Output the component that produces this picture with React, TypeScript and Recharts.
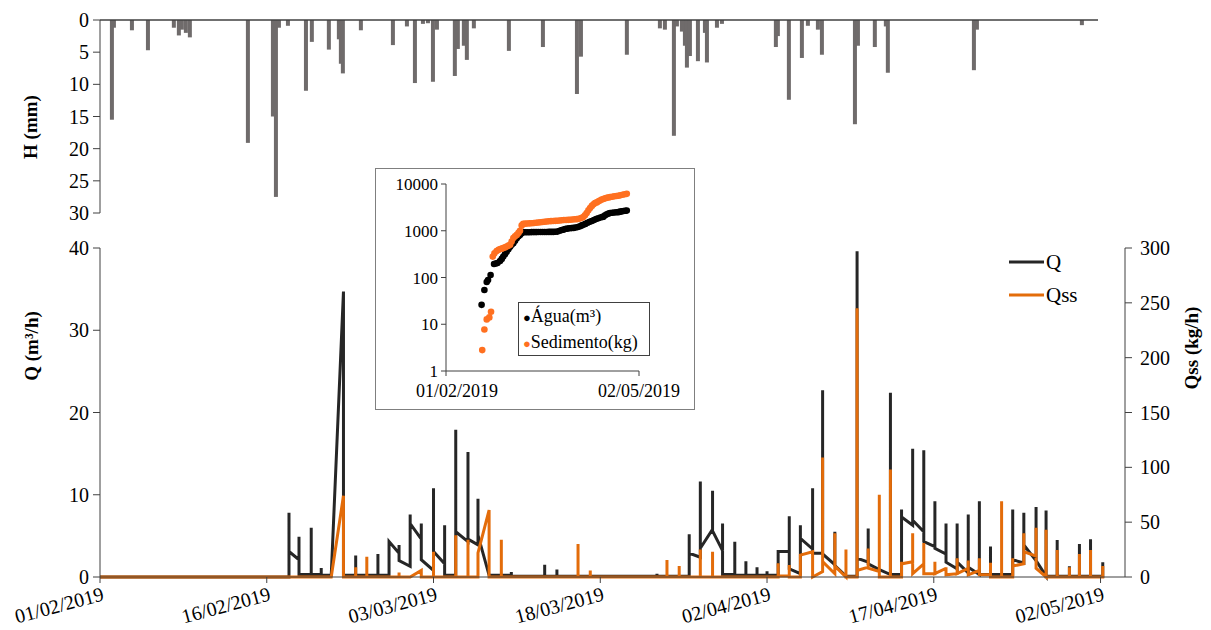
import React from "react";
import {
  Bar,
  BarChart,
  Line,
  LineChart,
  ReferenceLine,
  Scatter,
  ScatterChart,
  XAxis,
  YAxis,
} from "recharts";

const FONT = "'Liberation Serif', 'Times New Roman', serif";
const AXIS = "#404040";
const BLACK = "#262626";
const ORANGE = "#e36c0a";
const RAIN = "#6f6b6b";

// x values are days counted from 01/02/2019
const dateTicks = [0, 15, 30, 45, 60, 75, 90];
const dateLabels = [
  "01/02/2019",
  "16/02/2019",
  "03/03/2019",
  "18/03/2019",
  "02/04/2019",
  "17/04/2019",
  "02/05/2019",
];
const rainTicks = [0, 5, 10, 15, 20, 25, 30];
const qTicks = [0, 10, 20, 30, 40];
const qssTicks = [0, 50, 100, 150, 200, 250, 300];
const logTicks = [1, 10, 100, 1000, 10000];
const insetTicks = [0, 90];
const insetLabels = ["01/02/2019", "02/05/2019"];

// rainfall H (mm): [day, mm]
const rainfall: [number, number][] = [
  [1.08, 15.5], [1.26, 1.2], [2.88, 1.6], [4.32, 4.7], [6.65, 1.2], [7.1, 2.4],
  [7.37, 1.5], [7.73, 2.0], [8.09, 2.7], [13.31, 19.1], [15.56, 15.0], [15.83, 27.5],
  [16.1, 1.2], [16.91, 0.9], [18.53, 11.0], [19.06, 3.4], [20.59, 4.6], [21.49, 3.0],
  [21.67, 6.8], [21.85, 8.3], [23.47, 1.6], [26.35, 3.9], [27.61, 1.0], [28.33, 9.8],
  [29.05, 0.6], [29.5, 0.5], [29.95, 9.6], [30.31, 1.5], [31.92, 8.7], [32.19, 4.5],
  [32.73, 4.0], [33.0, 6.2], [33.63, 1.3], [36.78, 4.8], [39.84, 4.2], [42.9, 11.5],
  [43.26, 5.7], [47.39, 5.4], [50.36, 1.3], [50.81, 1.5], [51.62, 18.0], [51.89, 1.0],
  [52.34, 1.8], [52.61, 4.0], [52.79, 7.4], [53.06, 5.6], [53.78, 6.4], [54.41, 2.0],
  [54.59, 6.6], [55.49, 1.2], [55.94, 0.6], [60.79, 4.2], [60.97, 2.5], [61.96, 12.4],
  [63.13, 5.9], [63.67, 0.9], [64.57, 1.5], [64.93, 5.4], [67.9, 16.2], [68.17, 4.0],
  [69.69, 4.2], [70.68, 1.0], [70.86, 8.2], [78.6, 7.8], [78.87, 1.5], [88.31, 0.8],
];

// flow Q (m3/h): [day, Q]
const qSeries: [number, number][] = [
  [0, 0], [17.0, 0], [17.0, 7.8], [17.0, 3.1], [17.9, 2.1], [17.9, 4.9], [17.9, 0.3],
  [19.0, 0.3], [19.0, 6.0], [19.0, 0.3], [19.9, 0.3], [19.9, 1.1], [19.9, 0.2], [20.8, 0.2],
  [21.9, 34.7], [21.9, 0.2], [23.0, 0.2], [23.0, 2.6], [23.0, 0.2], [25.0, 0.2], [25.0, 2.8],
  [25.0, 0.2], [26.0, 0.2], [26.0, 4.3], [26.9, 2.9], [26.9, 3.9], [26.9, 2.0], [27.9, 1.3],
  [27.9, 7.6], [27.9, 6.5], [28.9, 4.6], [28.9, 6.5], [28.9, 2.1], [30.0, 0.8], [30.0, 10.8],
  [30.0, 3.1], [31.0, 1.6], [31.0, 6.3], [31.0, 0.2], [32.0, 0.2], [32.0, 17.9], [32.0, 5.5],
  [33.1, 4.3], [33.1, 15.2], [33.1, 4.6], [34.0, 3.9], [34.0, 9.5], [34.0, 5.1], [35.0, 0.2],
  [37.0, 0.2], [37.0, 0.6], [37.0, 0.1], [40.0, 0.1], [40.0, 1.5], [40.0, 0.1], [41.1, 0.1],
  [41.1, 0.9], [41.1, 0.1], [50.1, 0.1], [50.1, 0.4], [50.1, 0.1], [53.0, 0.1], [53.0, 5.2],
  [53.0, 2.9], [54.0, 2.4], [54.0, 11.6], [54.0, 3.5], [55.1, 5.8], [55.1, 10.5], [55.1, 5.6],
  [56.0, 3.2], [56.0, 6.5], [56.0, 0.3], [57.1, 0.3], [57.1, 4.3], [57.1, 0.2], [58.1, 0.2],
  [58.1, 1.9], [58.1, 0.2], [59.1, 0.2], [59.1, 1.2], [59.1, 0.2], [60.0, 0.2], [60.0, 0.7],
  [60.0, 0.2], [61.0, 0.2], [61.0, 3.1], [62.0, 3.1], [62.0, 7.4], [62.0, 1.0], [63.0, 0.4],
  [63.0, 6.3], [63.0, 4.7], [64.1, 3.4], [64.1, 10.8], [64.1, 2.9], [65.0, 2.9], [65.0, 22.7],
  [65.0, 2.8], [66.1, 1.5], [66.1, 5.5], [66.1, 1.4], [67.1, 0.1], [68.1, 0.1], [68.1, 39.6],
  [68.1, 2.3], [69.1, 1.8], [69.1, 5.9], [69.1, 1.6], [70.1, 0.9], [71.1, 0.3], [71.1, 22.4],
  [71.1, 0.3], [72.1, 0.3], [72.1, 8.2], [72.1, 7.3], [73.1, 6.3], [73.1, 15.6], [73.1, 6.9],
  [74.1, 5.5], [74.1, 15.4], [74.1, 4.3], [75.1, 3.7], [75.1, 9.2], [75.1, 3.5], [76.1, 2.8],
  [76.1, 6.5], [76.1, 1.8], [77.1, 1.0], [77.1, 6.5], [77.1, 1.8], [78.1, 0.5], [78.1, 7.6],
  [78.1, 1.2], [79.1, 0.3], [79.1, 9.2], [79.1, 0.3], [80.1, 0.3], [80.1, 3.7], [80.1, 0.3],
  [82.1, 0.3], [82.1, 8.2], [82.1, 2.1], [83.1, 1.7], [83.1, 7.8], [83.1, 3.9], [84.2, 2.0],
  [84.2, 8.5], [84.2, 2.0], [85.1, 0.1], [85.1, 8.1], [85.1, 0.1], [86.1, 0.1], [86.1, 4.5],
  [86.1, 0.1], [87.2, 0.1], [87.2, 1.3], [87.2, 0.1], [88.1, 0.1], [88.1, 4.0], [88.1, 0.1],
  [89.1, 0.1], [89.1, 4.6], [89.1, 0.1], [90.2, 0.1], [90.2, 1.8], [90.2, 0],
];

// suspended sediment Qss (kg/h): [day, Qss]
const qssSeries: [number, number][] = [
  [0, 0], [20.8, 0], [21.9, 74], [21.9, 0], [23.0, 0], [23.0, 9], [23.0, 0], [24.0, 0],
  [24.0, 18.5], [24.0, 0], [26.9, 0], [26.9, 4], [26.9, 0], [27.9, 0], [28.9, 6], [28.9, 0],
  [30.0, 0], [30.0, 23], [30.0, 0], [32.0, 0], [32.0, 38], [32.0, 0], [33.1, 0], [33.1, 34],
  [33.1, 0], [34.0, 0], [34.0, 22], [35.0, 61], [35.0, 0], [36.1, 0], [36.1, 34], [36.1, 0],
  [43.0, 0], [43.0, 30], [43.0, 0], [44.1, 0], [44.1, 6], [44.1, 0], [51.0, 0], [51.0, 15.5],
  [51.0, 0], [52.1, 0], [52.1, 10], [52.1, 0], [54.0, 0], [54.0, 25], [54.0, 0], [55.1, 0],
  [55.1, 23], [55.1, 0], [61.0, 0], [61.0, 12.5], [61.0, 1], [62.0, 1], [62.0, 11], [62.0, 0],
  [63.0, 0], [63.0, 20], [64.1, 23], [64.1, 0], [65.0, 5], [65.0, 109], [65.0, 14], [66.1, 3],
  [66.1, 40], [66.1, 10], [67.1, 0], [67.1, 25], [67.1, 0], [68.1, 0], [68.1, 245], [68.1, 6],
  [69.1, 9], [69.1, 26], [69.1, 8], [70.1, 5], [70.1, 75], [70.1, 0], [71.1, 0], [71.1, 98],
  [71.1, 0], [72.1, 0], [72.1, 14], [72.1, 12], [73.1, 14], [73.1, 40], [73.1, 3], [74.1, 12],
  [74.1, 31], [74.1, 3], [75.1, 3], [75.1, 14], [75.1, 3], [76.1, 8], [76.1, 9], [76.1, 2],
  [77.1, 3], [77.1, 17], [77.1, 3], [78.1, 8], [78.1, 15], [78.1, 2], [79.1, 6], [79.1, 17],
  [79.1, 2], [80.1, 2], [80.1, 13], [80.1, 0], [81.1, 0], [81.1, 69], [81.1, 0], [82.1, 0],
  [82.1, 17], [82.1, 10], [83.1, 12], [83.1, 40], [83.1, 23], [84.2, 19], [84.2, 45], [84.2, 8],
  [85.1, 0], [85.1, 43], [85.1, 0], [86.1, 0], [86.1, 24.6], [86.1, 0], [87.2, 0], [87.2, 9],
  [87.2, 0], [88.1, 0], [88.1, 21], [88.1, 0], [89.1, 0], [89.1, 24.6], [89.1, 0], [90.2, 0],
  [90.2, 10], [90.2, 0],
];

// cumulative water (m3): [day, volume]
const waterVolume: [number, number][] = [
  [16.6, 26], [17.9, 54], [19.0, 80], [19.6, 88], [20.8, 113], [22.4, 195], [23.2, 200],
  [24.0, 205], [25.2, 226], [26.0, 250], [26.7, 280], [27.5, 315], [28.3, 357], [29.1, 400],
  [29.9, 457], [30.6, 500], [31.4, 540], [32.2, 610], [33.0, 695], [33.8, 760], [34.5, 815],
  [35.3, 880], [36.0, 935], [37, 930], [38, 930], [39, 930], [40, 935], [41, 935], [42, 935],
  [43, 940], [44, 940], [45, 940], [46, 940], [47, 940], [48, 945], [49, 945], [50, 945],
  [51, 950], [52, 960], [53, 1000], [54, 1040], [54.7, 1050], [55.5, 1090], [56.5, 1110],
  [57.5, 1130], [58.5, 1140], [59.5, 1150], [60.5, 1170], [61.5, 1200], [62.5, 1250],
  [63.3, 1300], [64, 1340], [65, 1400], [66, 1480], [67, 1550], [68, 1620], [69, 1700],
  [70, 1780], [71, 1850], [72, 1920], [73, 1980], [73.4, 2000], [74.2, 2150], [75, 2250],
  [75.8, 2330], [76.5, 2400], [77.5, 2430], [78.5, 2460], [79.5, 2490], [80.4, 2500],
  [81.2, 2560], [82, 2600], [82.8, 2640], [83.6, 2680], [84.3, 2700],
];

// cumulative sediment (kg): [day, mass]
const sedimentMass: [number, number][] = [
  [16.9, 2.8], [17.9, 7.7], [19.0, 12.7], [20.2, 14], [21.0, 18.5], [21.8, 280], [22.6, 330],
  [23.6, 370], [24.5, 390], [25.3, 405], [26.1, 415], [26.7, 425], [27.5, 440], [28.3, 460],
  [29.1, 480], [29.9, 500], [30.6, 590], [31.4, 700], [32.2, 760], [33.0, 815], [33.8, 900],
  [34.5, 1000], [35.3, 1300], [36.0, 1410], [37, 1420], [38, 1430], [39, 1440], [40, 1450],
  [41, 1460], [42, 1480], [43, 1500], [44, 1520], [45, 1540], [46, 1560], [47, 1580],
  [48, 1600], [49, 1610], [50, 1620], [51, 1630], [52, 1640], [53, 1660], [54, 1680],
  [55, 1700], [56, 1700], [57, 1710], [58, 1720], [59, 1740], [60, 1760], [61, 1770],
  [62, 1800], [63, 1880], [64, 1960], [64.8, 2150], [65.6, 2400], [66.4, 2750], [67.2, 3070],
  [68, 3400], [68.8, 3700], [69.5, 3900], [70.3, 4040], [71.1, 4250], [71.8, 4450],
  [72.6, 4650], [73.4, 4770], [74.2, 4950], [75, 5050], [75.7, 5150], [76.5, 5250],
  [77.5, 5350], [78.5, 5450], [79.5, 5550], [80.4, 5600], [81.3, 5750], [82.3, 5900],
  [83.3, 6050], [84.3, 6150],
];

const rainRows = rainfall.map(([day, mm]) => ({ day, mm }));
const qRows = qSeries.map(([day, q]) => ({ day, q }));
const qssRows = qssSeries.map(([day, qss]) => ({ day, qss }));
const waterRows = waterVolume.map(([day, v]) => ({ day, v }));
const sedimentRows = sedimentMass.map(([day, v]) => ({ day, v }));

const tickStyle = { fontSize: 20, fill: "#000", style: { fontFamily: FONT } };

function DateTick(props: any) {
  const { x, y, payload } = props;
  const label = dateLabels[dateTicks.indexOf(payload.value)];
  const ax = x + 5;
  const ay = y + 15;
  return (
    <text
      x={ax}
      y={ay}
      textAnchor="end"
      fontSize={20}
      style={{ fontFamily: FONT }}
      fill="#000"
      transform={`rotate(-15, ${ax}, ${ay})`}
    >
      {label}
    </text>
  );
}

function InsetDateTick(props: any) {
  const { x, y, payload } = props;
  const i = insetTicks.indexOf(payload.value);
  return (
    <text
      x={i === 0 ? x + 11 : x}
      y={y + 19}
      textAnchor="middle"
      fontSize={18}
      style={{ fontFamily: FONT }}
      fill="#000"
    >
      {insetLabels[i]}
    </text>
  );
}

const dot = (color: string) => (p: any) =>
  <circle cx={p.cx} cy={p.cy} r={3.3} fill={color} />;

// rain bars are narrow and closely spaced, so keep a fixed 4px width;
// the axis is reversed, so the height may come in negative
const RainBar = (p: any) => {
  const w = Number(p.width) || 0;
  const h = Number(p.height) || 0;
  const cx = Number(p.x) + w / 2;
  return (
    <rect
      x={cx - 2}
      y={Math.min(Number(p.y), Number(p.y) + h)}
      width={4}
      height={Math.abs(h)}
      fill={RAIN}
    />
  );
};

function RainPanel() {
  return (
    <BarChart
      width={1211}
      height={230}
      data={rainRows}
      margin={{ top: 20, right: 113, bottom: 17, left: 40 }}
    >
      <XAxis type="number" dataKey="day" domain={[0, 89.75]} hide />
      <YAxis
        reversed
        domain={[0, 30]}
        ticks={rainTicks}
        width={60}
        tick={tickStyle}
        tickSize={7}
        tickMargin={4}
        stroke={AXIS}
      />
      <Bar dataKey="mm" fill={RAIN} barSize={4} shape={RainBar} isAnimationActive={false} />
      <ReferenceLine y={0} stroke={AXIS} strokeWidth={1.5} />
    </BarChart>
  );
}

function FlowPanel() {
  return (
    <LineChart
      width={1211}
      height={630}
      margin={{ top: 248, right: 26, bottom: 13, left: 40 }}
    >
      <XAxis
        type="number"
        dataKey="day"
        domain={[0, 92.2]}
        ticks={dateTicks}
        allowDataOverflow
        height={40}
        tick={DateTick}
        tickSize={6}
        stroke={AXIS}
      />
      <YAxis
        yAxisId="q"
        domain={[0, 40]}
        ticks={qTicks}
        width={60}
        tick={tickStyle}
        tickSize={7}
        tickMargin={4}
        stroke={AXIS}
      />
      <YAxis
        yAxisId="qss"
        orientation="right"
        domain={[0, 300]}
        ticks={qssTicks}
        width={60}
        tick={{ ...tickStyle, textAnchor: "start" }}
        tickSize={7}
        tickMargin={8}
        stroke={AXIS}
      />
      <Line
        data={qRows}
        yAxisId="q"
        dataKey="q"
        type="linear"
        stroke={BLACK}
        strokeWidth={3}
        dot={false}
        isAnimationActive={false}
      />
      <Line
        data={qssRows}
        yAxisId="qss"
        dataKey="qss"
        type="linear"
        stroke={ORANGE}
        strokeWidth={3}
        dot={false}
        isAnimationActive={false}
      />
    </LineChart>
  );
}

function CumulativeInset() {
  return (
    <div
      style={{
        position: "absolute",
        left: 375,
        top: 168,
        width: 320,
        height: 242,
        boxSizing: "border-box",
        border: "1px solid #7f7f7f",
        background: "#fff",
      }}
    >
      <ScatterChart
        width={318}
        height={240}
        margin={{ top: 15, right: 55, bottom: 8, left: 20 }}
      >
        <XAxis
          type="number"
          dataKey="day"
          domain={[0, 90]}
          ticks={insetTicks}
          height={30}
          tick={InsetDateTick}
          tickSize={5}
          stroke={AXIS}
        />
        <YAxis
          type="number"
          dataKey="v"
          scale="log"
          domain={[1, 10000]}
          ticks={logTicks}
          allowDataOverflow
          width={50}
          tick={{ ...tickStyle, fontSize: 17 }}
          tickSize={5}
          tickMargin={3}
          stroke={AXIS}
        />
        <Scatter
          data={waterRows}
          fill="#000"
          shape={dot("#000")}
          isAnimationActive={false}
        />
        <Scatter
          data={sedimentRows}
          fill="#ff7020"
          shape={dot("#ff7020")}
          isAnimationActive={false}
        />
      </ScatterChart>
      <div
        style={{
          position: "absolute",
          left: 142,
          top: 133,
          width: 132,
          height: 54,
          boxSizing: "border-box",
          border: "1px solid #404040",
          background: "#fff",
          fontSize: 18,
          lineHeight: "25px",
          paddingTop: 1,
          paddingLeft: 4,
          whiteSpace: "nowrap",
        }}
      >
        <div>
          <span style={{ color: "#000", fontSize: 13 }}>●</span>Água(m³)
        </div>
        <div>
          <span style={{ color: "#ff7020", fontSize: 13 }}>●</span>Sedimento(kg)
        </div>
      </div>
    </div>
  );
}

export default function App() {
  return (
    <div
      style={{
        position: "absolute",
        left: 0,
        top: 0,
        width: 1211,
        height: 630,
        background: "#fff",
        fontFamily: FONT,
        overflow: "hidden",
      }}
    >
      <div style={{ position: "absolute", left: 0, top: 0 }}>
        <FlowPanel />
      </div>
      <div style={{ position: "absolute", left: 0, top: 0 }}>
        <RainPanel />
      </div>
      <CumulativeInset />
      <svg
        width={1211}
        height={630}
        style={{ position: "absolute", left: 0, top: 0, pointerEvents: "none", fontFamily: FONT }}
      >
        <text
          transform="translate(37, 127) rotate(-90)"
          textAnchor="middle"
          fontSize={19}
          fontWeight="bold"
        >
          H (mm)
        </text>
        <text
          transform="translate(38, 346) rotate(-90)"
          textAnchor="middle"
          fontSize={19}
          fontWeight="bold"
        >
          Q (m³/h)
        </text>
        <text
          transform="translate(1198, 348) rotate(-90)"
          textAnchor="middle"
          fontSize={19}
          fontWeight="bold"
        >
          Qss (kg/h)
        </text>
        <line x1={1009} y1={262} x2={1044} y2={262} stroke={BLACK} strokeWidth={3} />
        <text x={1046} y={269} fontSize={21}>
          Q
        </text>
        <line x1={1009} y1={295} x2={1044} y2={295} stroke={ORANGE} strokeWidth={3} />
        <text x={1046} y={302} fontSize={21}>
          Qss
        </text>
      </svg>
    </div>
  );
}
